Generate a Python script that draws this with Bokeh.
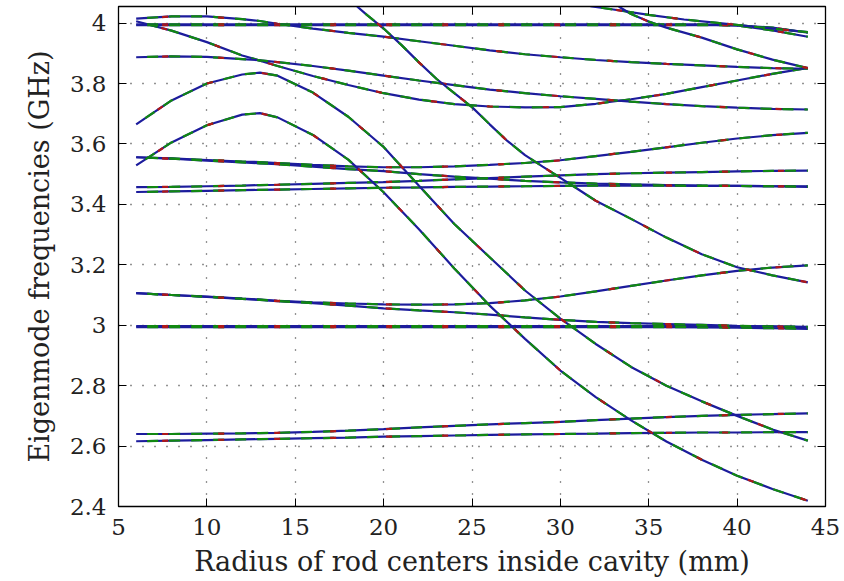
from bokeh.plotting import figure
from bokeh.models import FixedTicker, LinearAxis, Range1d
from bokeh.embed import file_html
from bokeh.resources import INLINE

# Radius of rod centers (mm) at which the eigenmodes were solved
radius_mm = [6, 8, 10, 12, 13, 14, 16, 18, 20, 22, 24, 26, 28, 30, 32, 34, 36, 38, 40, 42, 44]

# Eigenmode frequencies (GHz), one list per mode, sampled at radius_mm
mode_a1 = [2.640, 2.640, 2.641, 2.642, 2.643, 2.644, 2.647, 2.651, 2.656, 2.662, 2.667,
           2.672, 2.676, 2.680, 2.686, 2.691, 2.696, 2.700, 2.703, 2.706, 2.708]
mode_a2 = [2.616, 2.618, 2.620, 2.622, 2.623, 2.624, 2.626, 2.628, 2.631, 2.633, 2.635,
           2.637, 2.639, 2.640, 2.641, 2.643, 2.644, 2.645, 2.645, 2.646, 2.646]
mode_b1 = [2.997, 2.997, 2.997, 2.997, 2.997, 2.997, 2.997, 2.997, 2.997, 2.997, 2.997,
           2.997, 2.997, 2.997, 2.997, 2.997, 2.997, 2.997, 2.997, 2.996, 2.993]
mode_b2 = [2.994, 2.994, 2.994, 2.994, 2.994, 2.994, 2.994, 2.994, 2.994, 2.994, 2.994,
           2.994, 2.994, 2.994, 2.994, 2.994, 2.994, 2.993, 2.992, 2.990, 2.988]
mode_c1 = [3.106, 3.100, 3.095, 3.088, 3.085, 3.081, 3.076, 3.072, 3.069, 3.068, 3.069,
           3.073, 3.082, 3.095, 3.112, 3.130, 3.148, 3.165, 3.180, 3.191, 3.198]
mode_c2 = [3.106, 3.100, 3.094, 3.087, 3.084, 3.080, 3.073, 3.065, 3.056, 3.049, 3.043,
           3.035, 3.026, 3.018, 3.011, 3.007, 3.004, 3.001, 2.998, 2.996, 2.995]
mode_e1 = [3.556, 3.552, 3.547, 3.542, 3.540, 3.537, 3.531, 3.526, 3.523, 3.523, 3.526,
           3.531, 3.537, 3.546, 3.560, 3.574, 3.589, 3.604, 3.618, 3.629, 3.637]
mode_e2 = [3.556, 3.551, 3.545, 3.539, 3.536, 3.533, 3.525, 3.517, 3.510, 3.500, 3.492,
           3.485, 3.478, 3.473, 3.469, 3.466, 3.464, 3.462, 3.461, 3.460, 3.460]
mode_f1 = [3.457, 3.458, 3.460, 3.462, 3.464, 3.465, 3.468, 3.471, 3.474, 3.478, 3.483,
           3.487, 3.492, 3.496, 3.500, 3.503, 3.505, 3.507, 3.509, 3.511, 3.512]
mode_f2 = [3.441, 3.443, 3.445, 3.447, 3.448, 3.449, 3.451, 3.453, 3.455, 3.456, 3.458,
           3.459, 3.460, 3.461, 3.462, 3.462, 3.462, 3.461, 3.461, 3.460, 3.458]
mode_g = [3.529, 3.605, 3.662, 3.697, 3.702, 3.688, 3.630, 3.548, 3.440, 3.318, 3.188,
          3.065, 2.955, 2.850, 2.762, 2.685, 2.615, 2.555, 2.502, 2.458, 2.419]
mode_h = [3.665, 3.744, 3.800, 3.830, 3.836, 3.826, 3.770, 3.690, 3.590, 3.462, 3.335,
          3.225, 3.115, 3.022, 2.938, 2.862, 2.800, 2.748, 2.700, 2.655, 2.618]
mode_i = [4.006, 3.975, 3.937, 3.893, 3.876, 3.858, 3.825, 3.795, 3.768, 3.747, 3.732,
          3.724, 3.721, 3.722, 3.733, 3.748, 3.766, 3.788, 3.810, 3.832, 3.852]
mode_j = [3.887, 3.890, 3.888, 3.881, 3.877, 3.871, 3.858, 3.843, 3.826, 3.810, 3.795,
          3.780, 3.768, 3.758, 3.749, 3.740, 3.732, 3.725, 3.720, 3.716, 3.714]
mode_k = [4.015, 4.022, 4.022, 4.013, 4.007, 3.998, 3.982, 3.968, 3.955, 3.940, 3.925,
          3.910, 3.897, 3.887, 3.878, 3.871, 3.865, 3.860, 3.855, 3.851, 3.849]
mode_l1 = [3.996, 3.996, 3.996, 3.996, 3.996, 3.996, 3.996, 3.996, 3.996, 3.996, 3.996,
           3.996, 3.996, 3.996, 3.996, 3.996, 3.996, 3.996, 3.992, 3.976, 3.955]
mode_l2 = [3.993, 3.993, 3.993, 3.993, 3.993, 3.993, 3.993, 3.993, 3.993, 3.993, 3.993,
           3.993, 3.993, 3.993, 3.993, 3.993, 3.993, 3.993, 3.993, 3.985, 3.968]

# Modes that enter the window from above
radius_m1 = [31.7, 33, 35, 37, 39, 41, 43, 44]
mode_m1 = [4.056, 4.045, 4.027, 4.012, 4.000, 3.988, 3.976, 3.970]
radius_m2 = [33.3, 34, 35, 36, 38, 40, 42, 44]
mode_m2 = [4.055, 4.030, 4.005, 3.985, 3.952, 3.913, 3.879, 3.851]
radius_n = [18.5, 19, 20, 21, 22, 23, 24, 25, 26, 27, 28, 29, 30, 31, 32, 34, 36, 38, 40, 42, 44]
mode_n = [4.055, 4.030, 3.982, 3.928, 3.870, 3.815, 3.768, 3.722, 3.665, 3.610, 3.563,
          3.525, 3.488, 3.450, 3.412, 3.352, 3.290, 3.235, 3.192, 3.165, 3.142]

x_ticks = [5, 10, 15, 20, 25, 30, 35, 40, 45]
x_tick_labels = ["5", "10", "15", "20", "25", "30", "35", "40", "45"]
y_ticks = [2.4, 2.6, 2.8, 3.0, 3.2, 3.4, 3.6, 3.8, 4.0]
y_tick_labels = ["2.4", "2.6", "2.8", "3", "3.2", "3.4", "3.6", "3.8", "4"]

curves = [(radius_mm, m) for m in (mode_a1, mode_a2, mode_b1, mode_b2, mode_c1, mode_c2,
                                   mode_e1, mode_e2, mode_f1, mode_f2, mode_g, mode_h,
                                   mode_i, mode_j, mode_k, mode_l1, mode_l2)]
curves += [(radius_m1, mode_m1), (radius_m2, mode_m2), (radius_n, mode_n)]

FONT = "DejaVu Serif"
INK = "#222222"

p = figure(width=844, height=581, output_backend="svg", toolbar_location=None,
           x_range=Range1d(5, 45), y_range=Range1d(2.4, 4.055),
           min_border_left=118, min_border_right=19, min_border_top=6, min_border_bottom=75)
p.background_fill_color = "white"
p.border_fill_color = "white"
p.outline_line_color = "black"
p.outline_line_width = 1.3

# three solver runs overlaid: blue, green and red dashes on the same curves
for xs, ys in curves:
    p.line(xs, ys, line_color="#1c1c9c", line_width=2.2)
    p.line(xs, ys, line_color="#118811", line_width=2.2, line_dash="11 11", line_dash_offset=11)
    p.line(xs, ys, line_color="#b01818", line_width=2.2, line_dash="6 50", line_dash_offset=30)

xax = p.below[0]
yax = p.left[0]
xax.ticker = FixedTicker(ticks=x_ticks)
yax.ticker = FixedTicker(ticks=y_ticks)
xax.major_label_overrides = dict(zip(x_ticks, x_tick_labels))
yax.major_label_overrides = dict(zip(y_ticks, y_tick_labels))
xax.axis_label = "Radius of rod centers inside cavity (mm)"
yax.axis_label = "Eigenmode frequencies (GHz)"

for ax in (xax, yax):
    ax.major_tick_in = 8
    ax.major_tick_out = 0
    ax.minor_tick_line_color = None
    ax.axis_line_color = "black"
    ax.major_tick_line_color = "black"
    ax.major_label_text_font = FONT
    ax.major_label_text_font_size = "23px"
    ax.major_label_text_color = INK
    ax.axis_label_text_font = FONT
    ax.axis_label_text_font_size = "27px"
    ax.axis_label_text_font_style = "normal"
    ax.axis_label_text_color = INK
xax.major_label_standoff = 12
yax.major_label_standoff = 12
xax.axis_label_standoff = 8
yax.axis_label_standoff = 12

for g in (p.xgrid[0], p.ygrid[0]):
    g.grid_line_color = "black"
    g.grid_line_width = 1.3
    g.grid_line_dash = "1 11"
    g.grid_line_alpha = 0.85
p.xgrid[0].ticker = FixedTicker(ticks=x_ticks)
p.ygrid[0].ticker = FixedTicker(ticks=y_ticks)

# tick marks on the top and right edges of the box, labels switched off
for loc, ticks in (("above", x_ticks), ("right", y_ticks)):
    ax = LinearAxis(ticker=FixedTicker(ticks=ticks), major_tick_in=8, major_tick_out=0,
                    minor_tick_line_color=None, axis_line_color="black",
                    major_label_text_font_size="0px", major_label_text_color=None,
                    major_label_standoff=0)
    p.add_layout(ax, loc)

open("out.html", "w").write(file_html(p, INLINE))
